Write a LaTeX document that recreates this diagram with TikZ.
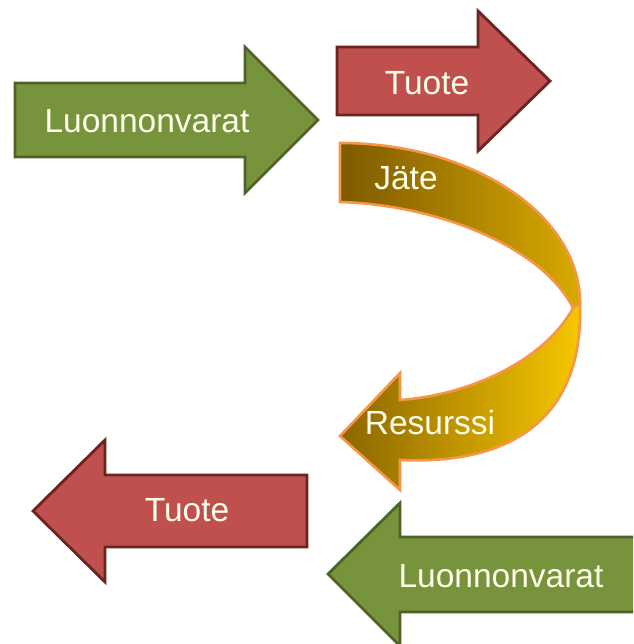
\documentclass[tikz,border=0pt]{standalone}
\usepackage{fontspec}
\setmainfont{Liberation Sans}
\usepackage{xcolor}
\usepackage{tikz}
\usetikzlibrary{calc}
\definecolor{grfill}{HTML}{77933C}
\definecolor{grline}{HTML}{4F6228}
\definecolor{rdfill}{HTML}{C0504D}
\definecolor{rdline}{HTML}{6A2422}
\definecolor{orline}{HTML}{F79646}
\definecolor{gdark}{HTML}{7E5A00}
\definecolor{glight}{HTML}{D8AA00}
\definecolor{gbright}{HTML}{F8C800}

\begin{document}
\begin{tikzpicture}[x=0.03cm,y=0.03cm,
  grn/.style={fill=grfill,draw=grline,line width=2.4pt,line join=miter},
  red/.style={fill=rdfill,draw=rdline,line width=2.4pt,line join=miter},
  rib/.style={draw=orline,line width=2.2pt,line join=miter},
  lb/.style={anchor=base,inner sep=0pt,text=white!92!yellow,font=\fontsize{28.6}{30}\selectfont}
]
\clip (0,0) rectangle (633,644);
% ---- top row: input arrow and product arrow ----
\draw[grn] (15,487) -- (245,487) -- (245,451) -- (318,524) -- (245,597)
  -- (245,561) -- (15,561) -- cycle;
\node[lb] (luon1) at (147,511) {Luonnonvarat};
\draw[red] (337,529) -- (478,529) -- (478,493) -- (550,563) -- (478,633)
  -- (478,597) -- (337,597) -- cycle;
\node[lb] (tuo1) at (427,549) {Tuote};
% ---- curved arrow: waste turns into resource ----
\draw[rib,left color=gdark,right color=glight]
  (340,501) arc[start angle=90,end angle=0,x radius=240,y radius=160]
  -- (573,336) .. controls (543,396) and (440,439) .. (340,442) -- cycle;
\draw[rib,left color=gdark!85!glight,right color=gbright]
  (580,341) .. controls (584,224) and (510,179) .. (400,184)
  -- (400,154) -- (340,208) -- (400,271) -- (400,244)
  .. controls (470,249) and (545,284) .. (573,336) -- cycle;
\node[lb] (jate) at (406,454) {Jäte};
\node[lb] (res) at (430,209) {Resurssi};
% ---- bottom row: arrows pointing back ----
\draw[red] (307,97) -- (105,97) -- (105,62) -- (33,133) -- (105,204)
  -- (105,169) -- (307,169) -- cycle;
\node[lb] (tuo2) at (187,122) {Tuote};
\draw[grn] (660,32) -- (400,32) -- (400,-2) -- (328,70) -- (400,141)
  -- (400,107) -- (660,107) -- cycle;
\node[lb] (luon2) at (501,56) {Luonnonvarat};
\end{tikzpicture}
\end{document}
